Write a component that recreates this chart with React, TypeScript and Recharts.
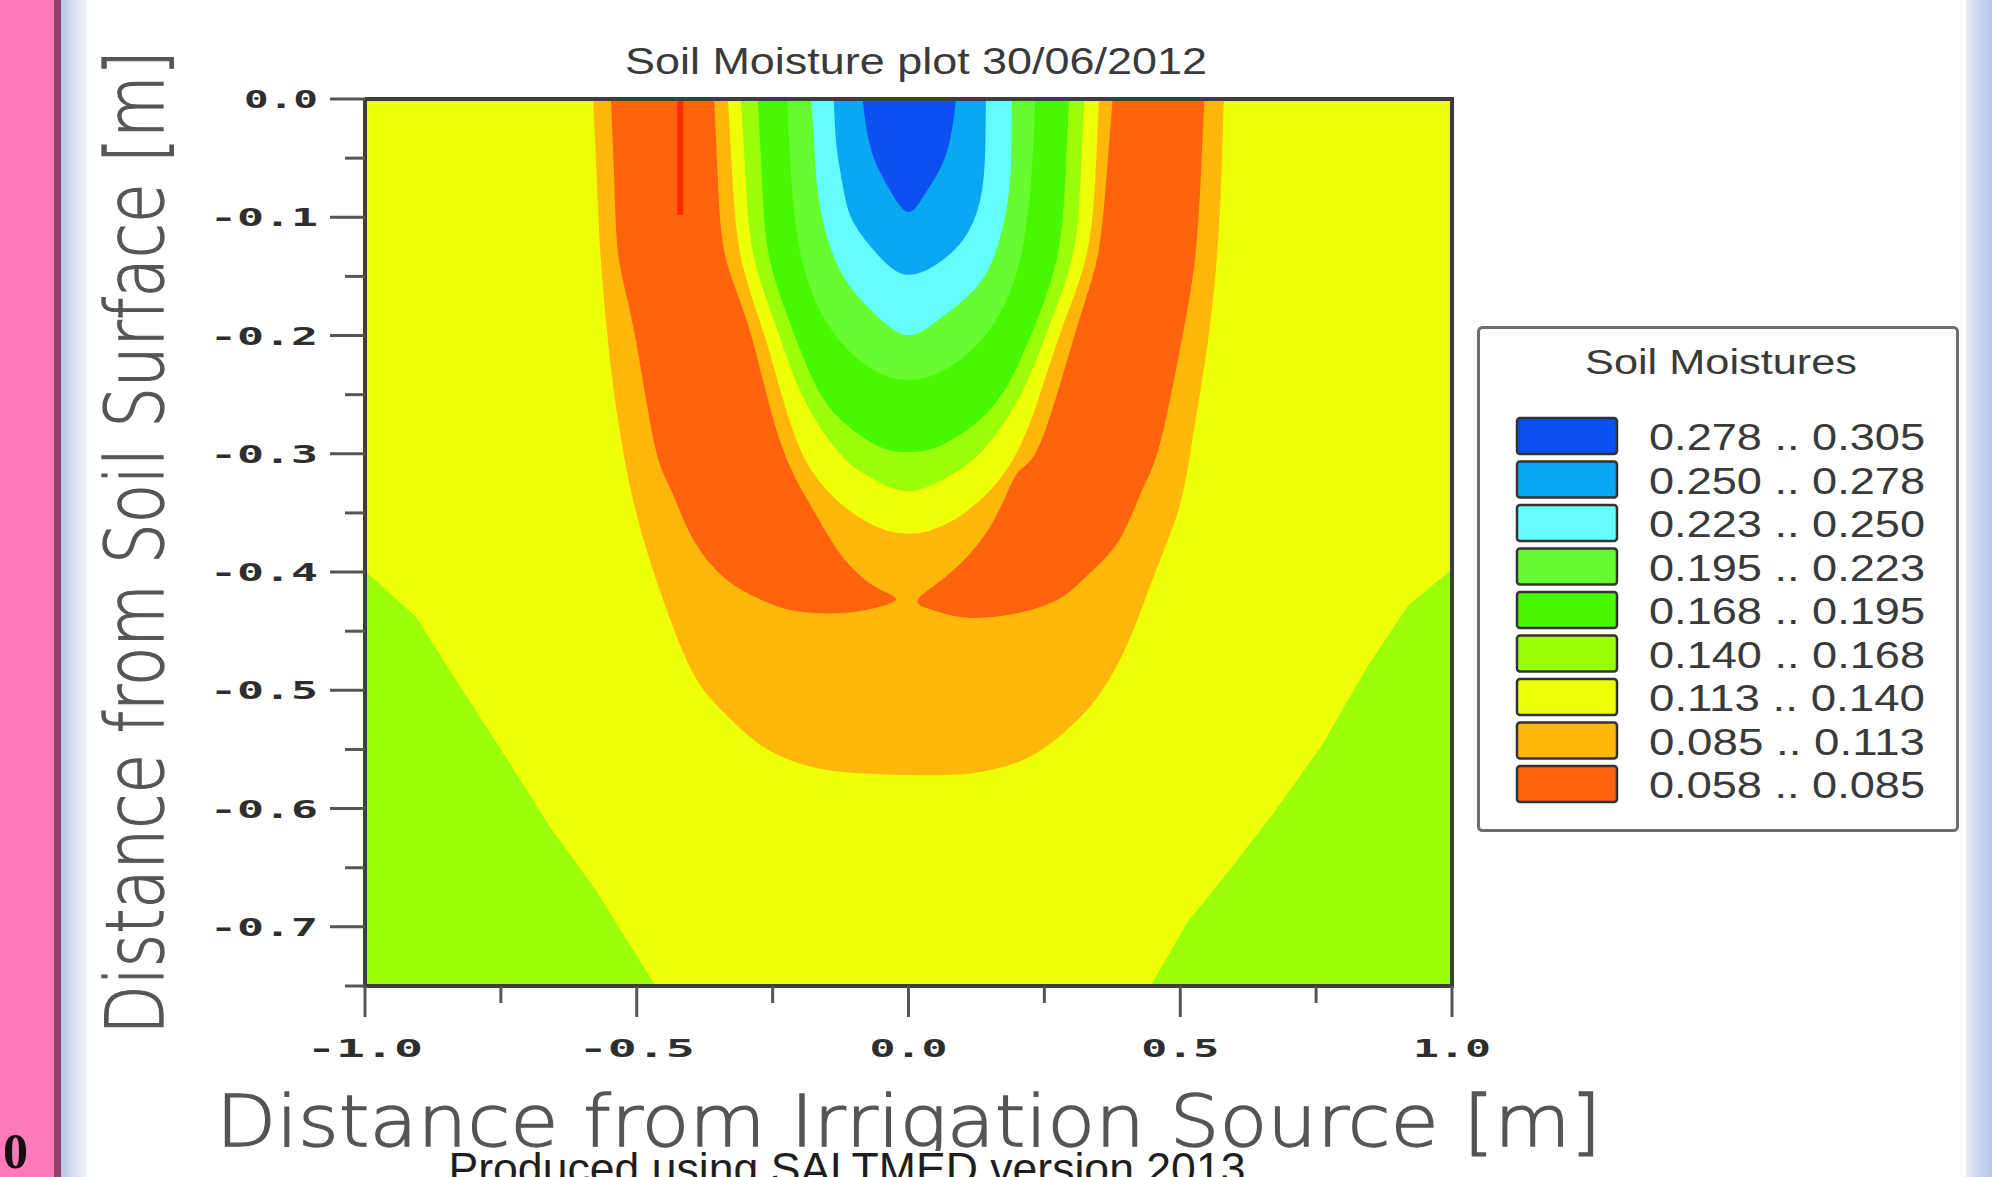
import React from "react";
import { ComposedChart, Scatter, XAxis, YAxis, Legend } from "recharts";

const W = 1992;
const H = 1177;

// class limits of the soil moisture legend, lowest first
const LEVELS = [0.058, 0.085, 0.113, 0.14, 0.168, 0.195, 0.223, 0.25, 0.278, 0.305];
const BAND_COLORS = ["#ff630e", "#ffb70c", "#eeff08", "#9bff0b", "#48f800", "#66fc30", "#63fdfd", "#0aa7f3", "#0b50f0"];

const X_MAJOR = [-1, -0.5, 0, 0.5, 1];
const X_MINOR = [-0.75, -0.25, 0.25, 0.75];
const Y_MAJOR = [0, -0.1, -0.2, -0.3, -0.4, -0.5, -0.6, -0.7];
const Y_MINOR = [-0.05, -0.15, -0.25, -0.35, -0.45, -0.55, -0.65, -0.75];

type Pt = [number, number];

// contour outlines, [distance, depth]
const FRAME: Pt[] = [[-1, 0], [1, 0], [1, -0.75], [-1, -0.75], [-1, 0]];
const GREEN_LEFT: Pt[] = [[-1, -0.4], [-0.908, -0.438], [-0.822, -0.5], [-0.743, -0.556], [-0.662, -0.615], [-0.577, -0.669], [-0.467, -0.75], [-1, -0.75]];
const GREEN_RIGHT: Pt[] = [[1, -0.398], [0.92, -0.429], [0.846, -0.48], [0.76, -0.548], [0.673, -0.604], [0.589, -0.654], [0.515, -0.696], [0.447, -0.75], [1, -0.75]];
const ORANGE_U: Pt[] = [
  [-0.579, 0], [-0.572, -0.07], [-0.565, -0.134], [-0.548, -0.22], [-0.524, -0.297], [-0.486, -0.373], [-0.423, -0.457],
  [-0.375, -0.5], [-0.32, -0.527], [-0.257, -0.55], [-0.147, -0.567], [0, -0.571], [0.11, -0.57], [0.221, -0.556],
  [0.305, -0.527], [0.355, -0.5], [0.405, -0.457], [0.452, -0.401], [0.497, -0.345], [0.521, -0.288], [0.548, -0.21],
  [0.566, -0.134], [0.574, -0.07], [0.579, 0],
];
const RED_LEFT: Pt[] = [
  [-0.546, 0], [-0.54, -0.07], [-0.532, -0.134], [-0.504, -0.195], [-0.467, -0.29], [-0.436, -0.33], [-0.394, -0.373],
  [-0.331, -0.407], [-0.27, -0.423], [-0.21, -0.432], [-0.118, -0.434], [-0.055, -0.429], [-0.024, -0.423],
  [-0.05, -0.416], [-0.086, -0.405], [-0.13, -0.383], [-0.18, -0.345], [-0.239, -0.288], [-0.294, -0.195],
  [-0.338, -0.134], [-0.352, -0.07], [-0.359, 0],
];
const RED_RIGHT: Pt[] = [
  [0.377, 0], [0.365, -0.07], [0.349, -0.134], [0.31, -0.195], [0.245, -0.29], [0.202, -0.316], [0.166, -0.35],
  [0.11, -0.387], [0.048, -0.412], [0.018, -0.425], [0.048, -0.432], [0.11, -0.438], [0.202, -0.434], [0.281, -0.421],
  [0.331, -0.401], [0.386, -0.373], [0.429, -0.33], [0.462, -0.29], [0.505, -0.195], [0.526, -0.134], [0.536, -0.07],
  [0.543, 0],
];
const PLUME_113: Pt[] = [
  [-0.331, 0], [-0.322, -0.07], [-0.307, -0.134], [-0.267, -0.195], [-0.232, -0.25], [-0.197, -0.297], [-0.15, -0.33],
  [-0.08, -0.356], [0, -0.367], [0.08, -0.356], [0.15, -0.33], [0.2, -0.297], [0.24, -0.25], [0.28, -0.195],
  [0.325, -0.134], [0.342, -0.07], [0.349, 0],
];
const PLUME_140: Pt[] = [
  [-0.307, 0], [-0.298, -0.07], [-0.283, -0.134], [-0.24, -0.195], [-0.195, -0.25], [-0.13, -0.297], [-0.075, -0.318],
  [0, -0.331], [0.075, -0.318], [0.135, -0.297], [0.205, -0.25], [0.255, -0.195], [0.3, -0.134], [0.315, -0.07], [0.322, 0],
];
const PLUME_168: Pt[] = [
  [-0.276, 0], [-0.268, -0.07], [-0.255, -0.134], [-0.212, -0.195], [-0.16, -0.25], [-0.1, -0.28], [-0.045, -0.295],
  [0, -0.298], [0.045, -0.295], [0.105, -0.28], [0.17, -0.25], [0.228, -0.195], [0.272, -0.134], [0.287, -0.07], [0.294, 0],
];
const PLUME_195: Pt[] = [
  [-0.222, 0], [-0.214, -0.07], [-0.196, -0.134], [-0.16, -0.18], [-0.11, -0.212], [-0.05, -0.232], [0, -0.237],
  [0.05, -0.232], [0.115, -0.212], [0.168, -0.18], [0.205, -0.134], [0.224, -0.07], [0.232, 0],
];
const PLUME_223: Pt[] = [
  [-0.178, 0], [-0.172, -0.04], [-0.166, -0.077], [-0.147, -0.119], [-0.11, -0.156], [-0.055, -0.184], [0, -0.199],
  [0.061, -0.184], [0.129, -0.156], [0.166, -0.119], [0.184, -0.077], [0.188, -0.04], [0.189, 0],
];
const PLUME_250: Pt[] = [
  [-0.136, 0], [-0.131, -0.04], [-0.118, -0.077], [-0.099, -0.105], [-0.05, -0.134], [0, -0.148], [0.061, -0.136],
  [0.11, -0.111], [0.134, -0.077], [0.14, -0.04], [0.141, 0],
];
const PLUME_278: Pt[] = [
  [-0.083, 0], [-0.076, -0.025], [-0.063, -0.049], [-0.045, -0.067], [-0.025, -0.083], [0, -0.095], [0.025, -0.083],
  [0.047, -0.067], [0.066, -0.049], [0.079, -0.025], [0.086, 0],
];
const RED_STREAK: Pt[] = [[-0.42, 0], [-0.42, -0.098]];

// paint order, each shape filled with the colour of its band
const LAYERS: { id: string; pts: Pt[]; band: number; curve: "linear" | "natural" }[] = [
  { id: "bg", pts: FRAME, band: 2, curve: "linear" },
  { id: "greenL", pts: GREEN_LEFT, band: 3, curve: "linear" },
  { id: "greenR", pts: GREEN_RIGHT, band: 3, curve: "linear" },
  { id: "orange", pts: ORANGE_U, band: 1, curve: "natural" },
  { id: "redL", pts: RED_LEFT, band: 0, curve: "natural" },
  { id: "redR", pts: RED_RIGHT, band: 0, curve: "natural" },
  { id: "p113", pts: PLUME_113, band: 2, curve: "natural" },
  { id: "p140", pts: PLUME_140, band: 3, curve: "natural" },
  { id: "p168", pts: PLUME_168, band: 4, curve: "natural" },
  { id: "p195", pts: PLUME_195, band: 5, curve: "natural" },
  { id: "p223", pts: PLUME_223, band: 6, curve: "natural" },
  { id: "p250", pts: PLUME_250, band: 7, curve: "natural" },
  { id: "p278", pts: PLUME_278, band: 8, curve: "natural" },
];

const toXY = (pts: Pt[]) => pts.map(([x, y]) => ({ x, y }));
const noDot = () => <g />;
const tickText = (v: number) => (v === 0 ? "0.0" : v.toFixed(1));
const isIn = (list: number[], v: number) => list.some((m) => Math.abs(m - v) < 1e-9);

const tickFont = "'DejaVu Sans Mono', 'Liberation Mono', monospace";
const labelFont = "'DejaVu Sans', Verdana, sans-serif";
const narrowFont = "'Liberation Sans Narrow', 'Liberation Sans', Arial, sans-serif";

function XTick(props: any) {
  const { x, y, payload } = props;
  const major = isIn(X_MAJOR, payload.value);
  const s = tickText(payload.value);
  return (
    <g>
      <line x1={x} x2={x} y1={y} y2={y + (major ? 31 : 17)} stroke="#555" strokeWidth={3} />
      {major && (
        <text x={x} y={y + 71} textAnchor="middle" fontFamily={tickFont} fontWeight="bold" fontSize={25} fill="#2e2e2e" textLength={s.length === 3 ? 78 : 116} lengthAdjust="spacingAndGlyphs">
          {s}
        </text>
      )}
    </g>
  );
}

function YTick(props: any) {
  const { x, y, payload } = props;
  const major = isIn(Y_MAJOR, payload.value);
  const s = tickText(payload.value);
  return (
    <g>
      <line x1={x - (major ? 35 : 20)} x2={x} y1={y} y2={y} stroke="#555" strokeWidth={3} />
      {major && (
        <text x={x - 47} y={y + 9} textAnchor="end" fontFamily={tickFont} fontWeight="bold" fontSize={25} fill="#2e2e2e" textLength={s.length === 3 ? 74 : 108} lengthAdjust="spacingAndGlyphs">
          {s}
        </text>
      )}
    </g>
  );
}

function YLabel(props: any) {
  const vb = props.viewBox;
  const cx = vb.x + vb.width - 202;
  const cy = vb.y + vb.height / 2;
  return (
    <text x={cx} y={cy} transform={`rotate(-90, ${cx}, ${cy})`} textAnchor="middle" fontFamily={labelFont} fontWeight={300} fontSize={80} fill="#555" stroke="#555" strokeWidth={1.3} textLength={984} lengthAdjust="spacingAndGlyphs">
      Distance from Soil Surface [m]
    </text>
  );
}

function XLabel(props: any) {
  const vb = props.viewBox;
  return (
    <text x={vb.x + vb.width / 2} y={vb.y + 160} textAnchor="middle" fontFamily={labelFont} fontWeight={300} fontSize={71} fill="#555" stroke="#555" strokeWidth={1.3} textLength={1385} lengthAdjust="spacingAndGlyphs">
      Distance from Irrigation Source [m]
    </text>
  );
}

function LegendBox() {
  const rows = BAND_COLORS.map((color, i) => ({
    color,
    label: `${LEVELS[i].toFixed(3)} .. ${LEVELS[i + 1].toFixed(3)}`,
  })).reverse();
  return (
    <svg width={482} height={508} style={{ display: "block" }}>
      <rect x={1.5} y={1.5} width={479} height={503} rx={4} fill="#fff" stroke="#6e6e6e" strokeWidth={3} />
      <text x={244} y={48} textAnchor="middle" fontFamily={narrowFont} fontSize={35} fill="#3a3a3a" textLength={272} lengthAdjust="spacingAndGlyphs">
        Soil Moistures
      </text>
      {rows.map((r, i) => {
        const cy = 110 + i * 43.5;
        return (
          <g key={r.label}>
            <rect x={40} y={cy - 18} width={100} height={36} rx={3} fill={r.color} stroke="#333" strokeWidth={2.5} />
            <text x={172} y={cy + 14} fontFamily={narrowFont} fontSize={37} fill="#3a3a3a" textLength={276} lengthAdjust="spacingAndGlyphs">
              {r.label}
            </text>
          </g>
        );
      })}
    </svg>
  );
}

export default function App() {
  const xTicks = [...X_MAJOR, ...X_MINOR].sort((a, b) => a - b);
  const yTicks = [...Y_MAJOR, ...Y_MINOR].sort((a, b) => a - b);
  return (
    <div style={{ position: "absolute", left: 0, top: 0, width: W, height: H, background: "#fff", overflow: "hidden" }}>
      <svg width={W} height={H} style={{ position: "absolute", left: 0, top: 0 }}>
        <defs>
          <linearGradient id="winL" x1="0" x2="1" y1="0" y2="0">
            <stop offset="0" stopColor="#b4c4e2" />
            <stop offset="0.45" stopColor="#d6dff0" />
            <stop offset="1" stopColor="#f2f5fa" />
          </linearGradient>
          <linearGradient id="winR" x1="0" x2="1" y1="0" y2="0">
            <stop offset="0" stopColor="#e8edf6" />
            <stop offset="0.5" stopColor="#c9d6ec" />
            <stop offset="1" stopColor="#b6c7e6" />
          </linearGradient>
        </defs>
        <rect x={0} y={0} width={54} height={H} fill="#ff7ab9" />
        <rect x={54} y={0} width={7} height={H} fill="#8e4168" />
        <rect x={61} y={0} width={26} height={H} fill="url(#winL)" />
        <rect x={1966} y={0} width={26} height={H} fill="url(#winR)" />
        <text x={3} y={1168} fontFamily="'Liberation Serif', serif" fontWeight="bold" fontSize={50} fill="#111">
          0
        </text>
        <text x={916} y={74} textAnchor="middle" fontFamily={narrowFont} fontSize={36} fill="#3a3a3a" textLength={582} lengthAdjust="spacingAndGlyphs">
          Soil Moisture plot 30/06/2012
        </text>
      </svg>
      <div style={{ position: "absolute", left: 0, top: 0 }}>
        <ComposedChart width={W} height={H} margin={{ top: 99, right: 540, bottom: 71, left: 65 }}>
          <XAxis type="number" dataKey="x" domain={[-1, 1]} ticks={xTicks} interval={0} height={120} tickSize={0} tickMargin={0} axisLine={false} tickLine={false} tick={<XTick />} label={XLabel} />
          <YAxis type="number" dataKey="y" domain={[-0.75, 0]} ticks={yTicks} interval={0} width={300} tickSize={0} tickMargin={0} axisLine={false} tickLine={false} tick={<YTick />} label={YLabel} />
          {LAYERS.map((l) => (
            <Scatter
              key={l.id}
              data={toXY(l.pts)}
              fill={BAND_COLORS[l.band]}
              line={{ fill: BAND_COLORS[l.band], stroke: BAND_COLORS[l.band], strokeWidth: 1.5 }}
              lineType="joint"
              lineJointType={l.curve}
              shape={noDot}
              legendType="none"
              isAnimationActive={false}
            />
          ))}
          <Scatter data={toXY(RED_STREAK)} fill="#ff2a00" line={{ fill: "none", stroke: "#ff2a00", strokeWidth: 6 }} lineType="joint" lineJointType="linear" shape={noDot} legendType="none" isAnimationActive={false} />
          <Scatter data={toXY(FRAME)} fill="#3d3d3d" line={{ fill: "none", stroke: "#3d3d3d", strokeWidth: 4 }} lineType="joint" lineJointType="linear" shape={noDot} legendType="none" isAnimationActive={false} />
          <Legend layout="horizontal" verticalAlign="middle" align="center" content={<LegendBox />} wrapperStyle={{ position: "absolute", left: 1477, top: 326, width: 482, height: 508, margin: 0 }} />
        </ComposedChart>
      </div>
      <svg width={W} height={H} style={{ position: "absolute", left: 0, top: 0, pointerEvents: "none" }}>
        <rect x={440} y={1151} width={815} height={26} fill="#fff" />
        <text x={847} y={1184} textAnchor="middle" fontFamily={narrowFont} fontSize={44} fill="#1e1e1e" textLength={797} lengthAdjust="spacingAndGlyphs">
          Produced using SALTMED version 2013
        </text>
      </svg>
    </div>
  );
}
